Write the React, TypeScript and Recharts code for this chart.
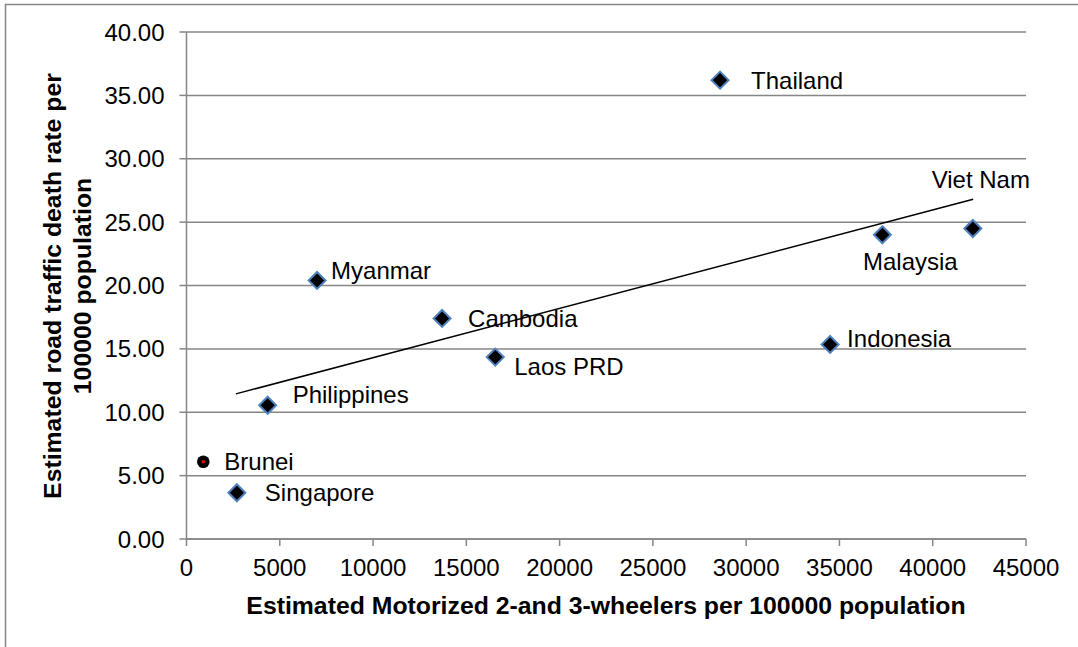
import {
  CartesianGrid,
  Scatter,
  ScatterChart,
  XAxis,
  YAxis,
} from 'recharts'

const countries = [
  'Thailand',
  'Myanmar',
  'Cambodia',
  'Laos PRD',
  'Indonesia',
  'Malaysia',
  'Viet Nam',
  'Philippines',
  'Singapore',
]
const vehicles = [28600, 7000, 13700, 16550, 34500, 37300, 42150, 4350, 2700]
const deathRates = [36.2, 20.4, 17.4, 14.35, 15.35, 24.0, 24.5, 10.55, 3.65]

const bruneiName = 'Brunei'
const bruneiVehicles = 900
const bruneiRate = 6.1

const trendX = [2650, 42170]
const trendY = [11.45, 26.8]

const xTicks = [0, 5000, 10000, 15000, 20000, 25000, 30000, 35000, 40000, 45000]
const yTicks = [0, 5, 10, 15, 20, 25, 30, 35, 40]

// where each label sits relative to its marker
const labelPlace: Record<string, { dx: number; dy: number; anchor: string }> = {
  Thailand: { dx: 31, dy: 0, anchor: 'start' },
  Myanmar: { dx: 14, dy: -10, anchor: 'start' },
  Cambodia: { dx: 26, dy: 0, anchor: 'start' },
  'Laos PRD': { dx: 19, dy: 9, anchor: 'start' },
  Indonesia: { dx: 17, dy: -6, anchor: 'start' },
  Malaysia: { dx: 28, dy: 27, anchor: 'middle' },
  'Viet Nam': { dx: 8, dy: -49, anchor: 'middle' },
  Philippines: { dx: 25, dy: -11, anchor: 'start' },
  Singapore: { dx: 28, dy: 0, anchor: 'start' },
  Brunei: { dx: 21, dy: 0, anchor: 'start' },
}

const points = countries.map((name, i) => ({ name, x: vehicles[i], y: deathRates[i] }))
const brunei = [{ name: bruneiName, x: bruneiVehicles, y: bruneiRate }]
const trend = trendX.map((x, i) => ({ x, y: trendY[i] }))

const font = '"Liberation Sans", Arial, sans-serif'
const grey = '#868686'

const PointLabel = ({ cx, cy, name }: { cx: number; cy: number; name: string }) => {
  const p = labelPlace[name]
  return (
    <text
      x={cx + p.dx}
      y={cy + p.dy}
      dy="0.35em"
      textAnchor={p.anchor as any}
      fontFamily={font}
      fontSize={24}
      fill="#000"
    >
      {name}
    </text>
  )
}

const Diamond = (props: any) => {
  const { cx, cy, payload } = props
  const r = 8.5
  return (
    <g>
      <polygon
        points={`${cx},${cy - r} ${cx + r},${cy} ${cx},${cy + r} ${cx - r},${cy}`}
        fill="#000"
        stroke="#4f81bd"
        strokeWidth={2}
      />
      <PointLabel cx={cx} cy={cy} name={payload.name} />
    </g>
  )
}

const Dot = (props: any) => {
  const { cx, cy, payload } = props
  return (
    <g>
      <circle cx={cx} cy={cy} r={6.3} fill="#000" />
      <circle cx={cx} cy={cy} r={1.8} fill="#ff0000" />
      <PointLabel cx={cx} cy={cy} name={payload.name} />
    </g>
  )
}

const App = () => {
  return (
    <div style={{ position: 'absolute', left: 0, top: 0, width: 1078, height: 647, background: '#fff' }}>
      <svg width={1078} height={647} style={{ position: 'absolute', left: 0, top: 0 }}>
        <rect x={5.5} y={4.5} width={1200} height={800} fill="#fff" stroke={grey} strokeWidth={1.5} />
        <text
          x={606}
          y={605}
          dy="0.35em"
          textAnchor="middle"
          fontFamily={font}
          fontWeight="bold"
          fontSize={24.8}
        >
          Estimated Motorized 2-and 3-wheelers per 100000 population
        </text>
        <text
          transform="translate(52, 286) rotate(-90)"
          dy="0.35em"
          textAnchor="middle"
          fontFamily={font}
          fontWeight="bold"
          fontSize={24.8}
        >
          Estimated road traffic death rate per
        </text>
        <text
          transform="translate(82, 286) rotate(-90)"
          dy="0.35em"
          textAnchor="middle"
          fontFamily={font}
          fontWeight="bold"
          fontSize={24.8}
        >
          100000 population
        </text>
      </svg>
      <div style={{ position: 'absolute', left: 0, top: 0 }}>
        <ScatterChart
          width={1078}
          height={647}
          margin={{ top: 32, right: 52, bottom: 0, left: 0 }}
        >
          <CartesianGrid vertical={false} stroke={grey} strokeWidth={1.5} />
          <XAxis
            type="number"
            dataKey="x"
            domain={[0, 45000]}
            ticks={xTicks}
            height={108}
            axisLine={{ stroke: grey, strokeWidth: 1.5 }}
            tickLine={{ stroke: grey, strokeWidth: 1.5 }}
            tickSize={7}
            tickMargin={13}
            tick={{ fill: '#000', fontSize: 24, fontFamily: font }}
            interval={0}
          />
          <YAxis
            type="number"
            dataKey="y"
            domain={[0, 40]}
            ticks={yTicks}
            width={186.5}
            axisLine={{ stroke: grey, strokeWidth: 1.5 }}
            tickLine={{ stroke: grey, strokeWidth: 1.5 }}
            tickSize={7}
            tickMargin={15}
            tickFormatter={(v: number) => v.toFixed(2)}
            tick={{ fill: '#000', fontSize: 24, fontFamily: font }}
            interval={0}
          />
          <Scatter
            data={trend}
            line={{ stroke: '#000', strokeWidth: 1.5 }}
            shape={() => <g />}
            isAnimationActive={false}
          />
          <Scatter data={points} shape={Diamond} isAnimationActive={false} />
          <Scatter data={brunei} shape={Dot} isAnimationActive={false} />
        </ScatterChart>
      </div>
    </div>
  )
}

export default App
